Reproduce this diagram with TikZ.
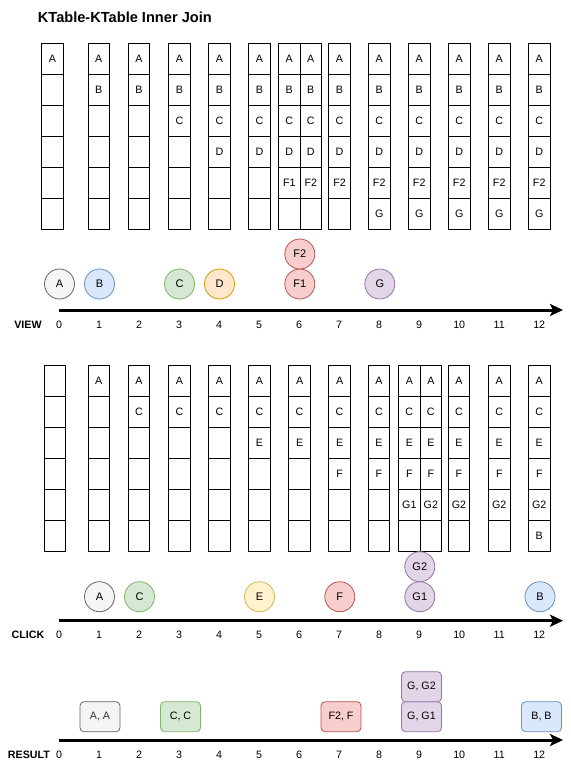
\documentclass[tikz,border=0pt]{standalone}
\usepackage{fontspec}
\setmainfont{Liberation Sans}
\usetikzlibrary{arrows.meta}
\definecolor{gyF}{HTML}{F5F5F5}\definecolor{gyD}{HTML}{666666}
\definecolor{blF}{HTML}{DAE8FC}\definecolor{blD}{HTML}{6C8EBF}
\definecolor{grF}{HTML}{D5E8D4}\definecolor{grD}{HTML}{82B366}
\definecolor{orF}{HTML}{FFE6CC}\definecolor{orD}{HTML}{D79B00}
\definecolor{rdF}{HTML}{F8CECC}\definecolor{rdD}{HTML}{B85450}
\definecolor{puF}{HTML}{E1D5E7}\definecolor{puD}{HTML}{9673A6}
\definecolor{yeF}{HTML}{FFF2CC}\definecolor{yeD}{HTML}{D6B656}
\tikzset{
  cell/.style={draw=black, line width=0.9pt, minimum width=21.5pt, minimum height=31pt, inner sep=0pt, font=\fontsize{10.7}{13}\selectfont},
  circ/.style={circle, draw=#1D, fill=#1F, line width=0.8pt, minimum size=30pt, inner sep=0pt, font=\fontsize{11}{13}\selectfont},
  rbox/.style={rounded corners=4pt, draw=#1D, fill=#1F, line width=0.8pt, minimum width=40pt, minimum height=30pt, inner sep=0pt, font=\fontsize{10.7}{13}\selectfont},
  tick/.style={font=\fontsize{10.7}{13}\selectfont, inner sep=0pt},
  axlabel/.style={font=\bfseries\fontsize{10.7}{13}\selectfont, inner sep=0pt},
  axis/.style={line width=3pt, -{Stealth[length=13pt, width=12pt, inset=3pt]}}
}
\newcommand\mycol[9]{%
  \foreach \t [count=\r] in {{#4},{#5},{#6},{#7},{#8},{#9}} {
    \node[cell] (#1-\r) at (#2, #3+31*\r-15.5) {\t};
  }}
\begin{document}
\begin{tikzpicture}[x=1pt, y=-1pt]
\useasboundingbox (0,0) rectangle (570,770);
\node[anchor=west, inner sep=0pt, font=\bfseries\fontsize{14.6}{16}\selectfont] (title) at (37.7,17) {KTable-KTable Inner Join};
% top table
\mycol{t0}{52.5}{43.3}{A}{}{}{}{}{}
\mycol{t1}{98.8}{43.3}{A}{B}{}{}{}{}
\mycol{t2}{139}{43.3}{A}{B}{}{}{}{}
\mycol{t3}{179.4}{43.3}{A}{B}{C}{}{}{}
\mycol{t4}{219.4}{43.3}{A}{B}{C}{D}{}{}
\mycol{t5}{259.4}{43.3}{A}{B}{C}{D}{}{}
\mycol{t6a}{289.25}{43.3}{A}{B}{C}{D}{F1}{}
\mycol{t6b}{310.75}{43.3}{A}{B}{C}{D}{F2}{}
\mycol{t7}{339.5}{43.3}{A}{B}{C}{D}{F2}{}
\mycol{t8}{379.2}{43.3}{A}{B}{C}{D}{F2}{G}
\mycol{t9}{419.2}{43.3}{A}{B}{C}{D}{F2}{G}
\mycol{t10}{459.2}{43.3}{A}{B}{C}{D}{F2}{G}
\mycol{t11}{499.2}{43.3}{A}{B}{C}{D}{F2}{G}
\mycol{t12}{539.2}{43.3}{A}{B}{C}{D}{F2}{G}
% view events
\node[circ=gy] (vA) at (59.5,284) {A};
\node[circ=bl] (vB) at (99.5,284) {B};
\node[circ=gr] (vC) at (179.5,284) {C};
\node[circ=or] (vD) at (219.5,284) {D};
\node[circ=rd] (vF1) at (299.8,284) {F1};
\node[circ=rd] (vF2) at (299.8,254) {F2};
\node[circ=pu] (vG) at (379.8,284) {G};
\coordinate (va0) at (59,310);
\coordinate (va1) at (563,310);
\draw[axis] (va0) -- (va1);
\node[axlabel] (vl) at (28,325) {VIEW};
\foreach \k in {0,...,12} \node[tick] (vt\k) at (59.2+40*\k,325) {\k};
% bottom table
\mycol{b0}{54.8}{365}{}{}{}{}{}{}
\mycol{b1}{98.8}{365}{A}{}{}{}{}{}
\mycol{b2}{139}{365}{A}{C}{}{}{}{}
\mycol{b3}{179.4}{365}{A}{C}{}{}{}{}
\mycol{b4}{219.4}{365}{A}{C}{}{}{}{}
\mycol{b5}{259.4}{365}{A}{C}{E}{}{}{}
\mycol{b6}{299.6}{365}{A}{C}{E}{}{}{}
\mycol{b7}{339.6}{365}{A}{C}{E}{F}{}{}
\mycol{b8}{379}{365}{A}{C}{E}{F}{}{}
\mycol{b9a}{409.35}{365}{A}{C}{E}{F}{G1}{}
\mycol{b9b}{430.85}{365}{A}{C}{E}{F}{G2}{}
\mycol{b10}{459}{365}{A}{C}{E}{F}{G2}{}
\mycol{b11}{499.3}{365}{A}{C}{E}{F}{G2}{}
\mycol{b12}{539.3}{365}{A}{C}{E}{F}{G2}{B}
% click events
\node[circ=gy] (cA) at (99.5,596.7) {A};
\node[circ=gr] (cC) at (139.5,596.7) {C};
\node[circ=ye] (cE) at (259.5,596.7) {E};
\node[circ=rd] (cF) at (339.8,596.7) {F};
\node[circ=pu] (cG1) at (419.8,596.7) {G1};
\node[circ=pu] (cG2) at (419.8,566.7) {G2};
\node[circ=bl] (cB) at (540,596.7) {B};
\coordinate (ca0) at (59,620.7);
\coordinate (ca1) at (563,620.7);
\draw[axis] (ca0) -- (ca1);
\node[axlabel] (cl) at (28,635) {CLICK};
\foreach \k in {0,...,12} \node[tick] (ct\k) at (59.2+40*\k,635) {\k};
% results
\node[rbox=gy, text=black!80] (rA) at (100,716.7) {A, A};
\node[rbox=gr] (rC) at (180.5,716.7) {C, C};
\node[rbox=rd] (rF) at (341,716.7) {F2, F};
\node[rbox=pu] (rG1) at (421.5,716.7) {G, G1};
\node[rbox=pu] (rG2) at (421.5,686.7) {G, G2};
\node[rbox=bl] (rB) at (541.5,716.7) {B, B};
\coordinate (ra0) at (59,740);
\coordinate (ra1) at (563,740);
\draw[axis] (ra0) -- (ra1);
\node[axlabel] (rl) at (29,755) {RESULT};
\foreach \k in {0,...,12} \node[tick] (rt\k) at (59.2+40*\k,755) {\k};
\end{tikzpicture}
\end{document}
